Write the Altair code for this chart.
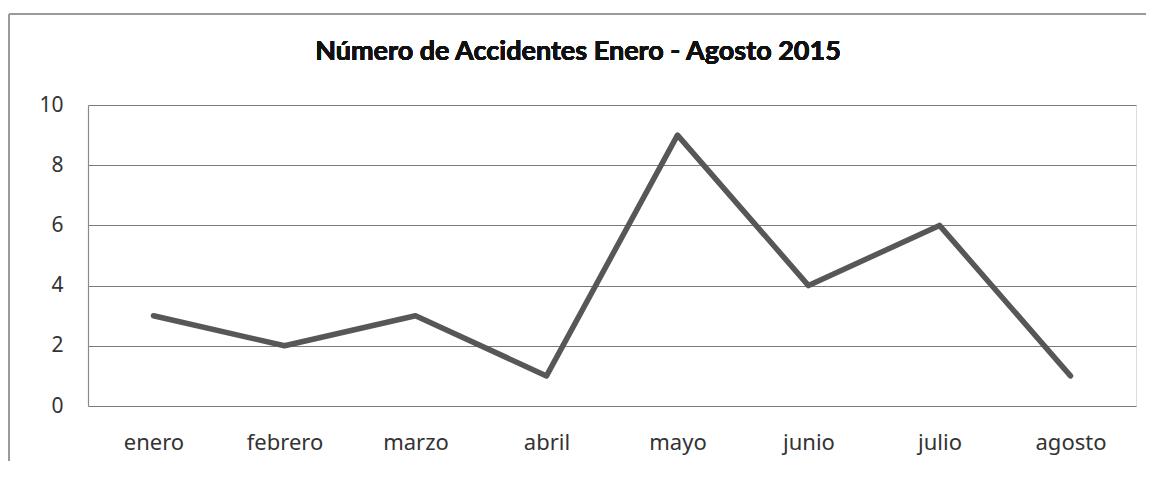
import altair as alt
import pandas as pd

months = ["enero", "febrero", "marzo", "abril", "mayo", "junio", "julio", "agosto"]
accidents = [3, 2, 3, 1, 9, 4, 6, 1]
y_ticks = [0, 2, 4, 6, 8, 10]
title_text = "Número de Accidentes Enero - Agosto 2015"

df = pd.DataFrame({"mes": months, "accidentes": accidents})
FONT = "Noto Sans"

x = alt.X("mes:N", sort=months, title=None,
          scale=alt.Scale(type="point", padding=0.5),
          axis=alt.Axis(labelAngle=0, labelFontSize=22, labelColor="#333333",
                        labelFont=FONT, labelPadding=26, ticks=False, domain=False,
                        grid=False))
y = alt.Y("accidentes:Q", title=None,
          scale=alt.Scale(domain=[0, 10], nice=False),
          axis=alt.Axis(values=y_ticks, labelFontSize=21, labelColor="#333333",
                        labelFont=FONT, labelPadding=25, ticks=False,
                        domain=True, domainColor="#8a8a8a", domainWidth=1.2,
                        grid=True, gridColor="#7a7a7a", gridWidth=1.2))

line = alt.Chart(df).mark_line(color="#575757", strokeWidth=5.5,
                               strokeCap="round", strokeJoin="round").encode(x=x, y=y)

border_top = alt.Chart(df).mark_rule(stroke="#9a9a9a", strokeWidth=1.5).encode(
    x=alt.value(-79), x2=alt.value(1100), y=alt.value(-91))
border_left = alt.Chart(df).mark_rule(stroke="#9a9a9a", strokeWidth=1.5).encode(
    x=alt.value(-79), y=alt.value(-91), y2=alt.value(500))

title = alt.Chart(df).mark_text(text=title_text, font="Lato", fontSize=27,
                                fontWeight="bold", color="#111111").encode(
    x=alt.value(490), y=alt.value(-53))

chart = alt.layer(border_top, border_left, line, title).properties(
    width=1048, height=301,
    padding={"left": 80, "top": 97, "right": 10, "bottom": 55},
    autosize=alt.AutoSizeParams(type="none"),
).configure_view(stroke=None).configure(background="white")

chart.save("out.html", embed_options={"renderer": "svg", "actions": False})
